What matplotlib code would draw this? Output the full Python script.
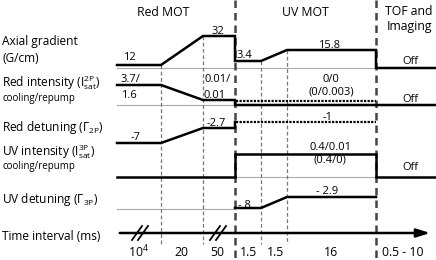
import matplotlib.pyplot as plt

plt.rcParams['font.family'] = ['Open Sans', 'DejaVu Sans']
plt.rcParams['mathtext.fontset'] = 'custom'
plt.rcParams['mathtext.rm'] = 'Open Sans'
plt.rcParams['mathtext.it'] = 'Open Sans'

# sequence steps (schematic positions along the time axis)
t_edges = [117, 161, 203, 235, 261, 287, 376, 436]
durations = ['$10^4$', '20', '50', '1.5', '1.5', '16', '0.5 - 10']
dur_x = [138, 181, 217, 248, 275, 331, 403]
phases = ['Red MOT', 'UV MOT', 'TOF and\nImaging']

row_names = ['Axial gradient\n(G/cm)', 'Red intensity ($\\mathregular{I^{2P}_{sat}}$)',
             'Red detuning ($\\Gamma_{2P}$)', 'UV intensity ($\\mathregular{I^{3P}_{sat}}$)',
             'UV detuning ($\\Gamma_{3P}$)', 'Time interval (ms)']

# traces (schematic levels per row)
grad_x = [117, 161, 203, 235, 235, 261, 287, 376, 376, 436]
grad_y = [65, 65, 36, 36, 61, 61, 50, 50, 68, 68]
redI_x = [117, 161, 203, 235, 235, 436]
redI_y = [85, 85, 100, 100, 105, 105]
redD_x = [117, 161, 203, 235, 235]
redD_y = [143, 143, 128, 128, 122]
uvI_x = [117, 235, 235, 376, 376, 436]
uvI_y = [177, 177, 154, 154, 177, 177]
uvD_x = [235, 261, 287, 376]
uvD_y = [208, 208, 197, 197]

fig = plt.figure(figsize=(4.36, 2.6), dpi=100)
ax = fig.add_axes([0, 0, 1, 1])
ax.set_xlim(0, 436)
ax.set_ylim(260, 0)
ax.axis('off')

fs = 8.6
# grey baselines
for yb in [68, 105, 177]:
    ax.plot([117, 436], [yb, yb], color='#aaaaaa', lw=0.8, zorder=1)
ax.plot([117, 235], [209, 209], color='#aaaaaa', lw=0.8, zorder=1)

# dashed vertical lines
for x, ytop in [(161, 65), (203, 36), (261, 61), (287, 50)]:
    ax.plot([x, x], [ytop, 244], color='#777777', lw=0.9, ls=(0, (3, 2)), zorder=1)
for x in [235, 376]:
    ax.plot([x, x], [0, 260], color='#444444', lw=1.8, ls=(0, (3, 2)), zorder=1)

for xs, ys in [(grad_x, grad_y), (redI_x, redI_y), (redD_x, redD_y),
               (uvI_x, uvI_y), (uvD_x, uvD_y)]:
    ax.plot(xs, ys, color='black', lw=1.8, zorder=3, solid_joinstyle='miter')
ax.plot([236, 376], [100.5, 100.5], color='black', lw=1.6, ls=(0, (1, 0.6)), zorder=3)
ax.plot([236, 376], [122, 122], color='black', lw=1.6, ls=(0, (1, 0.6)), zorder=3)

# time axis with arrow and breaks
ax.annotate('', xy=(433, 233), xytext=(117, 233),
            arrowprops=dict(arrowstyle='-|>,head_length=0.8,head_width=0.25',
                            color='black', lw=1.8, mutation_scale=10))
for xb in [140, 218]:
    for dx in [-3, 3]:
        ax.plot([xb + dx - 5, xb + dx + 5], [240, 226], color='black', lw=1.3, zorder=4)

# value labels
vals = [('12', 129, 58), ('32', 218, 31), ('3.4', 244, 56), ('15.8', 329, 45), ('Off', 410, 61),
        ('3.7/', 130, 80), ('1.6', 129, 95), ('0.01/', 218, 80), ('0.01', 215, 95),
        ('0/0', 331, 80), ('(0/0.003)', 331, 92), ('Off', 410, 99),
        ('-7', 136, 137), ('-2.7', 216, 123), ('-1', 328, 118),
        ('0.4/0.01', 330, 148), ('(0.4/0)', 330, 160), ('Off', 410, 168),
        ('- 8', 244, 205), ('- 2.9', 327, 192)]
for s, x, y in vals:
    ax.text(x, y, s, fontsize=8, ha='center', va='center')

for s, xc in zip(durations, dur_x):
    ax.text(xc, 252, s, fontsize=8.8, ha='center', va='center')

# phase headers
ax.text(163, 13, phases[0], fontsize=8.8, ha='center', va='center')
ax.text(305, 13, phases[1], fontsize=8.8, ha='center', va='center')
ax.text(409, 19, phases[2], fontsize=8.8, ha='center', va='center', linespacing=1.2)

# row labels
ax.text(2, 50, row_names[0], fontsize=fs, ha='left', va='center', linespacing=1.3)
ax.text(2, 83, row_names[1], fontsize=fs, ha='left', va='center')
ax.text(2, 98, 'cooling/repump', fontsize=7, ha='left', va='center')
ax.text(2, 128, row_names[2], fontsize=fs, ha='left', va='center')
ax.text(2, 152, row_names[3], fontsize=fs, ha='left', va='center')
ax.text(2, 167, 'cooling/repump', fontsize=7, ha='left', va='center')
ax.text(2, 200, row_names[4], fontsize=fs, ha='left', va='center')
ax.text(2, 237, row_names[5], fontsize=fs, ha='left', va='center')

fig.savefig('out.png', dpi=100)
